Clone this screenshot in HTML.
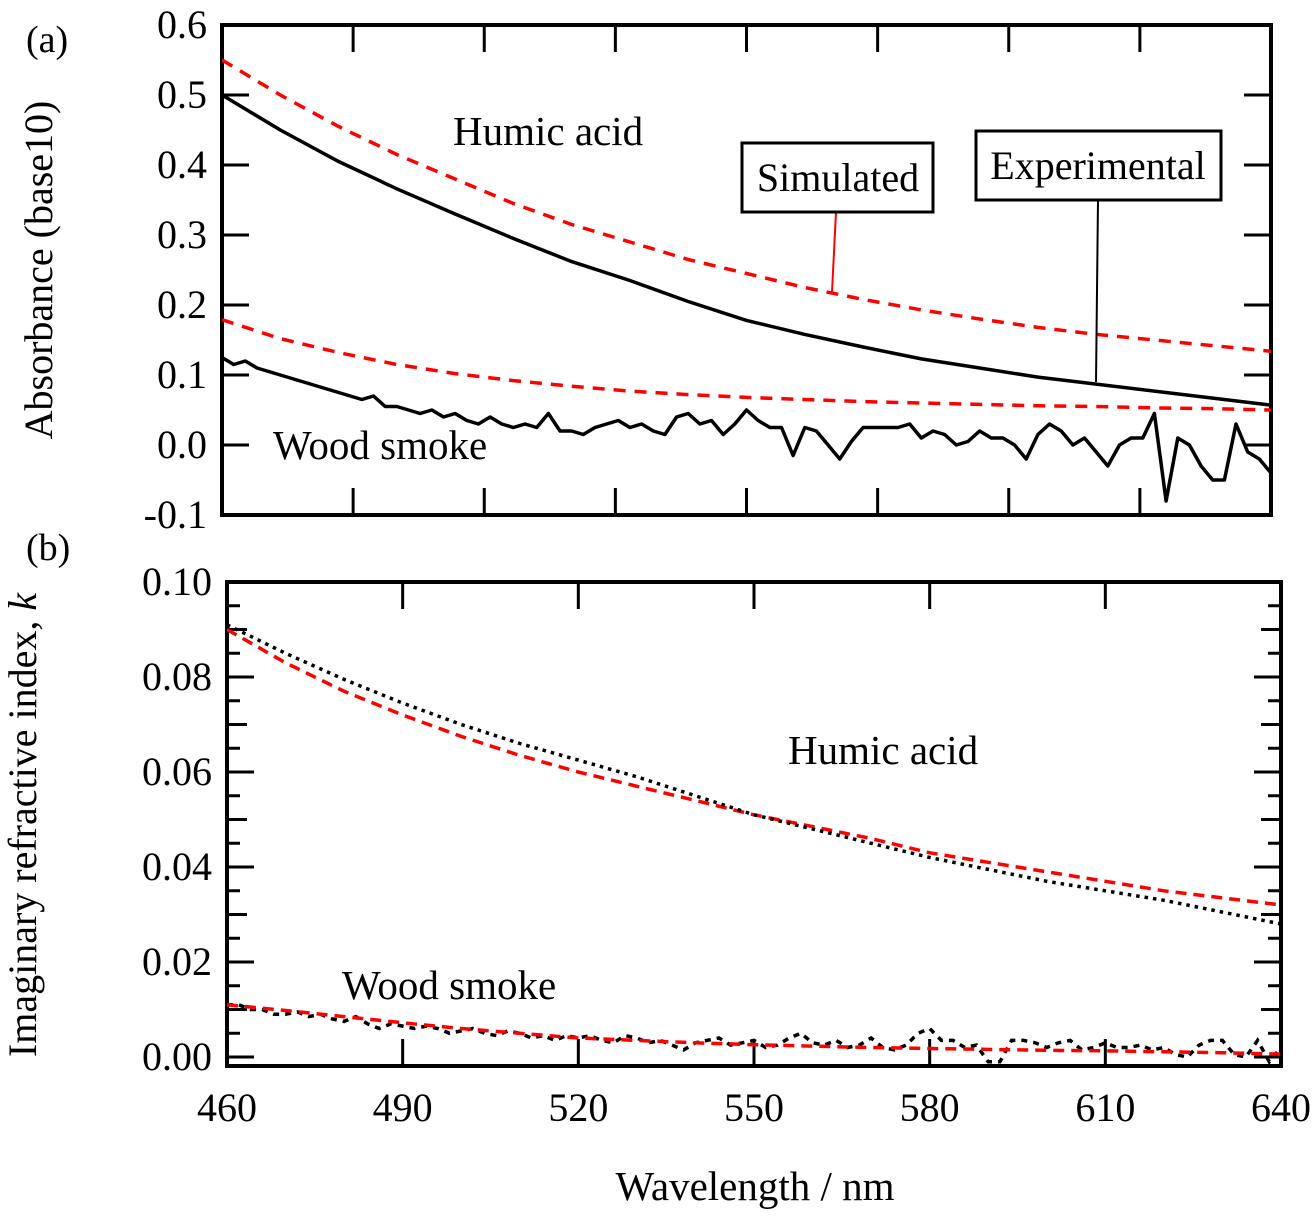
<!DOCTYPE html>
<html><head><meta charset="utf-8"><style>
body{margin:0;background:#fff}
svg text{font-family:"Liberation Serif","Times New Roman",serif;fill:#000}
</style></head><body>
<svg id="chart" width="1315" height="1218" viewBox="0 0 1315 1218" xmlns="http://www.w3.org/2000/svg" font-family="Liberation Serif, serif">
<defs>
<clipPath id="clipA"><rect x="222" y="25" width="1049" height="490"/></clipPath>
<clipPath id="clipB"><rect x="227" y="582" width="1054" height="484"/></clipPath>
</defs>
<g id="gA"></g>
<g id="gB"></g>
<text x="26" y="52" font-size="38">(a)</text>
<text x="26" y="560" font-size="38">(b)</text>
<text transform="translate(52,270) rotate(-90)" text-anchor="middle" font-size="40">Absorbance (base10)</text>
<text transform="translate(36,825) rotate(-90)" text-anchor="middle" font-size="40">Imaginary refractive index,  <tspan font-style="italic">k</tspan></text>
<text x="755" y="1200" text-anchor="middle" font-size="41">Wavelength / nm</text>
<text x="453" y="145" font-size="41">Humic acid</text>
<text x="273" y="459" font-size="41">Wood smoke</text>
<text x="788" y="764" font-size="41">Humic acid</text>
<text x="342" y="999" font-size="41">Wood smoke</text>
<line x1="836" y1="212" x2="832" y2="292" stroke="red" stroke-width="2"/>
<line x1="1098" y1="200" x2="1096" y2="382" stroke="#000" stroke-width="2"/>
<g>
<rect x="742" y="143" width="191" height="69" fill="#fff" stroke="#000" stroke-width="3"/>
<text x="838" y="191" text-anchor="middle" font-size="40">Simulated</text></g>
<g>
<rect x="976" y="131" width="245" height="69" fill="#fff" stroke="#000" stroke-width="3"/>
<text x="1098" y="179" text-anchor="middle" font-size="40">Experimental</text></g>
</svg>
<script>
const wlCoarse=[460,470,480,490,500,510,520,530,540,550,560,570,580,590,600,610,620,630,640];
const humicExpA=[0.50,0.45,0.405,0.366,0.33,0.295,0.262,0.235,0.205,0.178,0.158,0.14,0.123,0.11,0.097,0.087,0.077,0.067,0.057];
const humicSimA=[0.55,0.50,0.455,0.415,0.38,0.345,0.315,0.29,0.265,0.245,0.225,0.208,0.193,0.18,0.168,0.158,0.15,0.142,0.134];
const woodSimA=[0.179,0.152,0.132,0.115,0.102,0.092,0.084,0.077,0.072,0.068,0.065,0.062,0.06,0.058,0.056,0.055,0.053,0.052,0.05];
const woodExpA=[0.125,0.115,0.12,0.11,0.105,0.1,0.095,0.09,0.085,0.08,
0.075,0.07,0.065,0.07,0.055,0.055,0.05,0.045,0.05,0.04,
0.045,0.035,0.03,0.04,0.03,0.025,0.03,0.025,0.045,0.02,
0.02,0.015,0.025,0.03,0.035,0.025,0.03,0.02,0.015,0.04,
0.045,0.03,0.035,0.015,0.03,0.05,0.035,0.025,0.025,-0.015,
0.025,0.02,0.0,-0.02,0.005,0.025,0.025,0.025,0.025,0.03,
0.01,0.02,0.015,0.0,0.005,0.02,0.01,0.01,0.0,-0.02,
0.015,0.03,0.02,0.0,0.01,-0.01,-0.03,0.0,0.01,0.01,
0.045,-0.08,0.01,0.0,-0.03,-0.05,-0.05,0.03,-0.01,-0.02,-0.04];
const humicExpB=[0.091,0.085,0.0795,0.0745,0.070,0.066,0.0625,0.059,0.055,0.051,0.048,0.045,0.042,0.0395,0.037,0.035,0.033,0.0305,0.028];
const humicSimB=[0.090,0.083,0.077,0.072,0.0675,0.0635,0.060,0.057,0.054,0.051,0.0485,0.046,0.043,0.041,0.039,0.037,0.035,0.0335,0.032];
const woodSimB=[0.011,0.0098,0.0085,0.0072,0.006,0.005,0.004,0.0035,0.003,0.0026,0.0023,0.002,0.0018,0.0016,0.0014,0.0013,0.0011,0.0009,0.0006];
const woodExpB=[0.011,0.011,0.010,0.010,0.009,0.009,0.0095,0.0085,0.009,0.008,
0.0075,0.0085,0.007,0.006,0.007,0.0065,0.006,0.0065,0.006,0.005,
0.0055,0.006,0.005,0.0045,0.0055,0.005,0.004,0.0045,0.0035,0.0045,
0.004,0.0045,0.0035,0.003,0.0045,0.004,0.003,0.0035,0.0025,0.0015,
0.003,0.0035,0.004,0.0025,0.003,0.0035,0.002,0.0025,0.004,0.005,
0.003,0.0025,0.0035,0.002,0.0025,0.004,0.002,0.0015,0.0025,0.005,
0.006,0.0035,0.0035,0.002,0.0025,-0.001,-0.001,0.0035,0.0035,0.003,
0.002,0.003,0.0035,0.0015,0.002,0.003,0.002,0.002,0.0025,0.0015,
0.002,0.0005,0.0,0.0025,0.0035,0.0035,0.0005,0.0,0.0035,-0.001,0.002];
const yTicksA=["0.6","0.5","0.4","0.3","0.2","0.1","0.0","-0.1"];
const yTicksB=["0.10","0.08","0.06","0.04","0.02","0.00"];
const xTicksB=["460","490","520","550","580","610","640"];

const NS="http://www.w3.org/2000/svg";
function mk(tag,attrs,parent){const e=document.createElementNS(NS,tag);for(const k in attrs)e.setAttribute(k,attrs[k]);parent.appendChild(e);return e;}
const xA=w=>222+(w-460)/180*1049, yA=v=>445-v*700;
const xB=w=>227+(w-460)/180*1054, yB=v=>1057-v*4750;
const gA=document.getElementById('gA'), gB=document.getElementById('gB');
function path(xs,ys,xf,yf){return xs.map((w,i)=>(i?'L':'M')+xf(w).toFixed(1)+','+yf(ys[i]).toFixed(1)).join(' ');}
const wlFine=woodExpA.map((_,i)=>460+2*i);

let el=mk('rect',{x:222,y:25,width:1049,height:490,fill:'none',stroke:'#000','stroke-width':4},gA);


for(let i=1;i<8;i++){const x=222+i*1049/8;
 el=mk('line',{x1:x,y1:515,x2:x,y2:488,stroke:'#000','stroke-width':3},gA);
 
 
 el=mk('line',{x1:x,y1:25,x2:x,y2:52,stroke:'#000','stroke-width':3},gA);
 
 }
yTicksA.forEach((t,i)=>{const v=parseFloat(t),y=yA(v);
 if(i>0&&i<7){el=mk('line',{x1:222,y1:y,x2:249,y2:y,stroke:'#000','stroke-width':3},gA);
 
 
 el=mk('line',{x1:1271,y1:y,x2:1244,y2:y,stroke:'#000','stroke-width':3},gA);
 
 }
 el=mk('text',{x:207,y:y+13,'text-anchor':'end','font-size':40},gA);el.textContent=t;
 
 });
const cA=mk('g',{'clip-path':'url(#clipA)'},gA);
el=mk('path',{d:path(wlCoarse,humicSimA,xA,yA),fill:'none',stroke:'red','stroke-width':3.5,'stroke-dasharray':'12 9'},cA);


el=mk('path',{d:path(wlCoarse,woodSimA,xA,yA),fill:'none',stroke:'red','stroke-width':3.5,'stroke-dasharray':'12 9'},cA);


el=mk('path',{d:path(wlCoarse,humicExpA,xA,yA),fill:'none',stroke:'#000','stroke-width':3.5},cA);


el=mk('path',{d:path(wlFine,woodExpA,xA,yA),fill:'none',stroke:'#000','stroke-width':3.5,'stroke-linejoin':'round'},cA);



el=mk('rect',{x:227,y:582,width:1054,height:484,fill:'none',stroke:'#000','stroke-width':4},gB);


xTicksB.forEach((t,i)=>{const x=xB(parseFloat(t));
 if(i>0&&i<6){el=mk('line',{x1:x,y1:1066,x2:x,y2:1039,stroke:'#000','stroke-width':3},gB);
 
 
 el=mk('line',{x1:x,y1:582,x2:x,y2:609,stroke:'#000','stroke-width':3},gB);
 
 }
 el=mk('text',{x:x,y:1121,'text-anchor':'middle','font-size':40},gB);el.textContent=t;
 
 });
for(let k=0;k<20;k++){const v=k*0.005,y=yB(v);const L=(k%4==0)?27:(k%2==0?20:13);
 el=mk('line',{x1:227,y1:y,x2:227+L,y2:y,stroke:'#000','stroke-width':3},gB);
 
 
 el=mk('line',{x1:1281,y1:y,x2:1281-L,y2:y,stroke:'#000','stroke-width':3},gB);
 
 }
yTicksB.forEach(t=>{const y=yB(parseFloat(t));
 el=mk('text',{x:212,y:y+13,'text-anchor':'end','font-size':40},gB);el.textContent=t;
 
 });
const cB=mk('g',{'clip-path':'url(#clipB)'},gB);
el=mk('path',{d:path(wlCoarse,humicSimB,xB,yB),fill:'none',stroke:'red','stroke-width':3.5,'stroke-dasharray':'11 7'},cB);


el=mk('path',{d:path(wlCoarse,humicExpB,xB,yB),fill:'none',stroke:'#000','stroke-width':3.5,'stroke-dasharray':'3.5 5'},cB);


el=mk('path',{d:path(wlFine,woodExpB,xB,yB),fill:'none',stroke:'#000','stroke-width':3.5,'stroke-dasharray':'6 6'},cB);


el=mk('path',{d:path(wlCoarse,woodSimB,xB,yB),fill:'none',stroke:'red','stroke-width':3.5,'stroke-dasharray':'11 7'},cB);


</script>
</body></html>
